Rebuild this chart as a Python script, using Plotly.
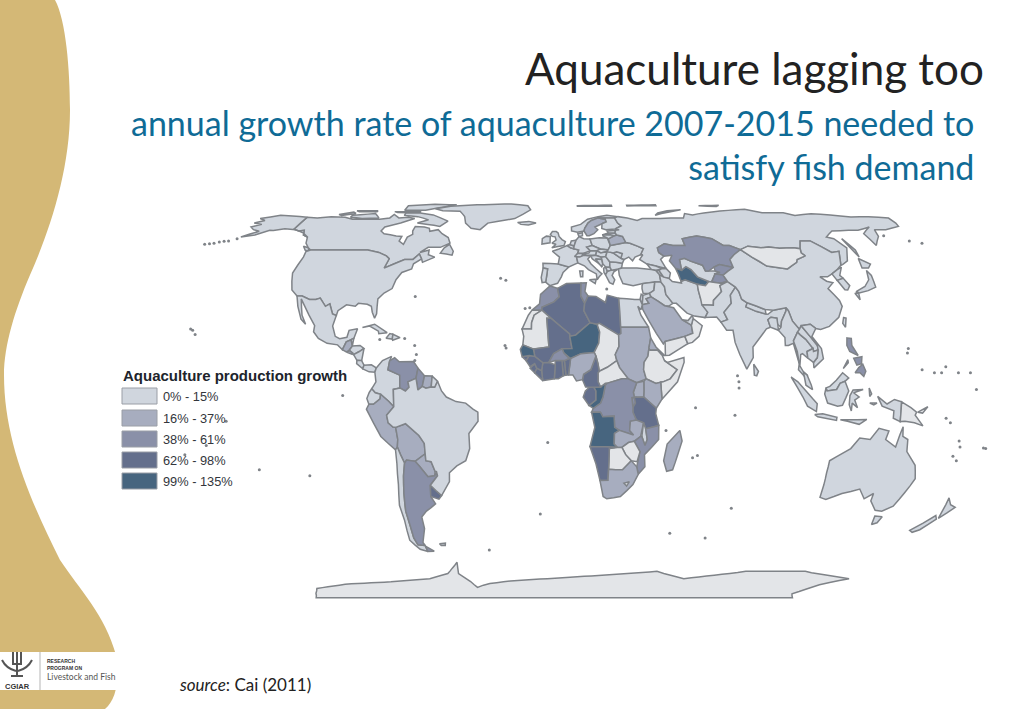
import numpy as np
import plotly.graph_objects as go

# class per country read from the map: 0 = palest (no data), 1..5 = legend classes
CLASS_COLORS = ["#e3e5e8", "#d0d6de", "#a7adbf", "#8a90a8", "#646f8c", "#47657f"]
LEGEND_LABELS = ["0% - 15%", "16% - 37%", "38% - 61%", "62% - 98%", "99% - 135%"]

COUNTRY_CLASS = {
    "CAN": 1, "USA": 1, "GRL": 1, "ISL": 1, "MEX": 1, "GTM": 2, "BLZ": 1, "HND": 1, "SLV": 2, "NIC": 1, "CRI": 1, "PAN": 1,
    "CUB": 1, "HTI": 1, "DOM": 1, "COL": 1, "VEN": 3, "GUY": 3, "SUR": 2, "GUF": 1, "ECU": 1, "PER": 2, "BOL": 2,
    "PRY": 2, "CHL": 1, "ARG": 3, "URY": 4, "BRA": 1, "FLK": 1,
    "GBR": 1, "IRL": 1, "ESP": 1, "PRT": 1, "FRA": 1, "BEL": 1, "NLD": 1, "DEU": 1, "CHE": 1, "AUT": 1, "ITA": 1, "DNK": 1,
    "NOR": 1, "SWE": 2, "FIN": 1, "POL": 1, "CZE": 1, "SVK": 1, "HUN": 1, "HRV": 1, "BIH": 1, "SRB": 1, "ALB": 1, "MKD": 1,
    "GRC": 1, "BGR": 1, "ROU": 1, "MDA": 1, "UKR": 1, "BLR": 2, "LTU": 1, "LVA": 1, "EST": 1, "RUS": 1,
    "SJM": 1, "FJL": 1, "SZM": 1,
    "GEO": 1, "ARM": 1, "AZE": 1, "TUR": 1, "SYR": 1, "ISR": 1, "JOR": 1, "IRQ": 1, "SAU": 2, "YEM": 0, "OMN": 0, "ARE": 1,
    "IRN": 1, "TKM": 5, "UZB": 1, "KAZ": 3, "KGZ": 3, "TJK": 3, "AFG": 0, "PAK": 1, "IND": 1, "NPL": 1, "BGD": 1, "LKA": 1,
    "CHN": 1, "MNG": 0, "PRK": 1, "KOR": 1, "JPN": 1, "TWN": 1, "MMR": 1, "THA": 1, "LAO": 1, "VNM": 1, "KHM": 1, "MYS": 1,
    "IDN": 1, "PNG": 0, "PHL": 3, "AUS": 1, "NZL": 1,
    "MAR": 3, "ESH": 0, "DZA": 4, "MRT": 0, "MLI": 4, "NER": 5, "TUN": 3, "LBY": 4, "EGY": 1, "TCD": 0, "SDN": 2, "ERI": 2,
    "ETH": 0, "SOM": 0, "KEN": 2, "UGA": 2, "RWA": 3, "TZA": 4, "CAF": 0, "COD": 3, "COG": 5, "GAB": 4, "CMR": 4, "NGA": 2,
    "BEN": 4, "TGO": 4, "GHA": 4, "CIV": 4, "BFA": 3, "LBR": 4, "SLE": 4, "GIN": 4, "GNB": 4, "SEN": 5, "AGO": 5, "ZMB": 2,
    "MWI": 1, "MOZ": 3, "ZWE": 0, "BWA": 0, "NAM": 4, "ZAF": 2, "LSO": 0, "MDG": 2, "ATA": 0,
}

# rough country outlines as "lon,lat" rings
OUTLINES = {
    "CAN": ["-141,69.6 -135,69 -128,70 -120,69.5 -115,68 -108,68 -100,68 -95,69 -94,72 -90,69 -85,69.5 -81,68.5 -87,65 -94,62 -94.5,59 -92,57 -85,55.3 -82,55 -82,52.9 -79,51.5 -79,54.7 -77,56.5 -78,59 -78,62.4 -73,62 -70,61 -69,58.8 -65,60 -62,57 -58,54.5 -56,52 -60,50.2 -66,50.2 -69,48 -65,49 -64.5,47 -61,46 -66,44 -67,45.2 -69,47.3 -71,45 -75,45 -79,43.5 -83,42 -82.5,45.3 -84.5,46.5 -89,48 -95,49 -123,49 -125,50 -128,52 -130,54.7 -133,56 -135,59.5 -137.5,59 -141,60.3",
            "-80,73.5 -72,71.5 -67,69 -62,66.5 -65,62.5 -72,64 -78,65 -73,67.5 -80,70 -88,71 -88,73.5",
            "-117,71 -105,73 -101,69 -110,68.5 -117,69.5", "-90,76.5 -78,76.5 -72,79 -62,82.5 -75,83 -90,81.5",
            "-125,72 -118,74.5 -116,73 -123,71", "-95,75 -80,75 -82,73.5 -93,74", "-59,47.7 -53,46.8 -53,48.5 -56,51.5 -58,50",
            "-128,50.7 -125,50 -123.5,48.5 -125.5,48.9", "-117,76 -105,76 -105,74.8 -115,74.8"],
    "USA": ["-123,49 -95,49 -89,48 -84.5,46.5 -82.5,45.3 -83,42 -79,43.5 -75,45 -71,45 -69,47.3 -67,45.2 -70,43.5 -70,41.7 -74,40.5 -75.5,38 -76,35 -79,33.5 -81,31.5 -80,26.5 -80.5,25 -82,27 -83,29 -85,29.7 -89,30 -90,29 -94,29.5 -97,27.5 -97.2,25.9 -99,26.4 -101.4,29.8 -103,29 -106.5,31.8 -108.2,31.3 -111,31.3 -114.8,32.5 -117.1,32.5 -120.5,34.5 -122.5,37.5 -124.3,40.3 -124,46 -124.7,48.4",
            "-141,69.6 -141,60.3 -137.5,59 -135,59.5 -133,56 -130,54.7 -134,57.5 -140,60 -146,60.7 -151,59.3 -153,59.5 -158,56 -164,54.7 -158,58.8 -162,60 -165,62 -161,64 -166,65 -162,67 -166,68.5 -157,71 -150,70.5"],
    "GRL": ["-73,78.2 -65,81 -50,82.5 -30,83.5 -20,81.5 -18,77 -22,72 -26,68.5 -40,65 -43,60 -48,61 -52,65 -54,70 -58,75.5 -68,76"],
    "ISL": ["-24,65.5 -18,66.3 -14,65 -18,63.5 -22,64"],
    "MEX": ["-117.1,32.5 -114.8,32.5 -111,31.3 -108.2,31.3 -106.5,31.8 -103,29 -101.4,29.8 -99,26.4 -97.2,25.9 -97.8,22.4 -96,19 -94,18.2 -91,18.7 -90.5,21 -87,21.5 -88,18.3 -89.1,17.9 -91,17.2 -92.2,14.6 -94.5,16.2 -99,16.7 -103,18.3 -105.5,20.5 -105.5,22.5 -109,26 -112.5,29.5 -114.7,31.5 -112,26 -109.5,23 -112,24.7 -115,29"],
    "GTM": ["-92.2,14.6 -91,17.2 -89.1,17.9 -88.2,15.8 -89.3,14.4 -90.5,13.9"],
    "BLZ": ["-89.1,17.9 -88,18.4 -88.2,16"],
    "HND": ["-89.3,14.4 -88.2,15.8 -85,16 -83.2,15 -85,14 -87.3,13"],
    "SLV": ["-90,13.7 -89.3,14.4 -87.7,13.5 -87.9,13.1"],
    "NIC": ["-87.3,13 -85,14 -83.2,15 -83.7,11 -85.7,11.1"],
    "CRI": ["-85.7,11.1 -83.7,11 -82.6,9.5 -83,8.3 -85.7,10"],
    "PAN": ["-83,8.3 -82.6,9.5 -79.5,9.6 -77.4,8.6 -77.9,7.2 -80.3,7.3"],
    "CUB": ["-85,21.9 -80,23 -74.2,20.2 -77.7,19.9 -78,20.7 -82,22.4"],
    "HTI": ["-74.4,18.4 -73,19.9 -71.7,19.7 -71.7,18.1"],
    "DOM": ["-71.7,19.7 -68.5,18.6 -71.5,17.7 -71.7,18.1"],
    "COL": ["-77.4,8.6 -75,11 -71.3,12.4 -72,10.9 -72.5,8 -67.5,6.2 -67.3,2 -70,1.5 -69.9,-4.2 -72,-2.4 -75.3,-0.1 -77.5,0.4 -79,1.7 -77.3,4 -77.9,7.2"],
    "VEN": ["-72,10.9 -70,12 -68,10.6 -62,10.7 -60,8.5 -60.7,5.2 -64,4 -63.5,2.2 -65,1 -67.3,2 -67.5,6.2 -72.5,8"],
    "GUY": ["-60,8.5 -57.2,6 -58,2.5 -59.8,1.3 -60.7,5.2"],
    "SUR": ["-57.2,6 -54,5.9 -54.3,2.3 -56.5,1.9 -58,2.5"],
    "GUF": ["-54,5.9 -51.7,4.2 -52.8,2.2 -54.3,2.3"],
    "ECU": ["-79,1.7 -77.5,0.4 -75.3,-0.1 -75.5,-1.6 -78.3,-3.4 -80.2,-3.4 -81,-1.5 -80,0.5"],
    "PER": ["-80.2,-3.4 -78.3,-3.4 -75.5,-1.6 -75.3,-0.1 -72,-2.4 -69.9,-4.2 -73,-7 -72.5,-9.5 -70.5,-11 -69.5,-11 -69,-15 -69.5,-17.5 -70.4,-18.4 -76,-14 -81.3,-5"],
    "BOL": ["-69.5,-11 -65.3,-9.8 -60,-13.7 -58,-16.3 -58,-19.7 -62.6,-22.2 -66.2,-21.8 -67.2,-22.8 -68.5,-20 -69.5,-17.5 -69,-15"],
    "PRY": ["-58,-19.7 -62.6,-22.2 -61,-23.8 -58,-27.3 -55,-27 -54.6,-25.5 -55.8,-22.3 -58,-22"],
    "CHL": ["-70.4,-18.4 -69.5,-17.5 -68.5,-20 -67.2,-22.8 -68.5,-27 -70,-33 -71.5,-39 -71.8,-44 -72.5,-49 -72,-52 -68.6,-52.3 -68.6,-55 -72,-54 -75,-50 -73.5,-42 -73.5,-37 -71.5,-30 -70.5,-23"],
    "ARG": ["-66.2,-21.8 -62.6,-22.2 -61,-23.8 -58,-27.3 -55,-27 -54,-25.6 -53.8,-27 -57.6,-30.2 -58.4,-34 -57,-36.5 -62,-39 -65,-41 -65.5,-45 -69,-51 -68.6,-52.3 -72,-52 -72.5,-49 -71.8,-44 -71.5,-39 -70,-33 -68.5,-27 -67.2,-22.8",
            "-68.6,-52.6 -65.3,-54.8 -68.6,-55"],
    "URY": ["-57.6,-30.2 -53.5,-33.7 -55,-34.9 -58.4,-34"],
    "BRA": ["-69.9,-4.2 -70,1.5 -67.3,2 -65,1 -63.5,2.2 -64,4 -60.7,5.2 -59.8,1.3 -58,2.5 -56.5,1.9 -54.3,2.3 -52.8,2.2 -51.7,4.2 -50,1 -48,-1 -44,-2.5 -40,-3 -37,-5 -35,-6 -35,-9 -39,-13 -39,-18 -41,-22 -45,-23.7 -48.5,-26 -49,-29 -53.5,-33.7 -57.6,-30.2 -53.8,-27 -54,-25.6 -54.6,-25.5 -55.8,-22.3 -58,-22 -58,-19.7 -58,-16.3 -60,-13.7 -65.3,-9.8 -69.5,-11 -70.5,-11 -72.5,-9.5 -73,-7"],
    "FLK": ["-61,-51.5 -58,-51.3 -58.5,-52.3 -60.5,-52.3"],
    "GBR": ["-5,58.6 -3,58.6 -2,57.5 -1.5,55 0,53.6 1.7,52.7 1,51 -5,50 -3,51.5 -5,52 -3,53.4 -3.5,54.8 -5,55 -6,56.5"],
    "IRL": ["-10,54 -8,55.2 -6,55 -6,52.2 -10,51.6"],
    "ESP": ["-9,43.7 -1.8,43.4 3.2,42.4 0.5,40.5 -0.3,39 -2,36.8 -5.5,36 -7.4,37.2 -7,39.5 -6.7,41.7 -8.8,42"],
    "PRT": ["-8.8,42 -6.7,41.7 -7,39.5 -7.4,37.2 -9,37 -9.5,38.8"],
    "FRA": ["-1.8,43.4 3.2,42.4 7.5,43.8 7,46 7.6,47.6 8.2,49 5.8,49.6 4.2,50 2.5,51 -1.5,49.5 -4.7,48.5 -1.2,46"],
    "BEL": ["2.5,51 4,51.4 6,50.8 5.8,49.6 4.2,50"],
    "NLD": ["4,51.4 4.7,53 7.1,53.3 6,50.8"],
    "DEU": ["6,50.8 7.1,53.3 8.7,54.9 11,54 14.2,53.9 15,51 12.2,50.3 13.8,48.7 10,47.5 7.6,47.6 8.2,49 5.8,49.6"],
    "CHE": ["6,46.2 7.6,47.6 9.6,47.5 10.4,46.8 8.5,46"],
    "AUT": ["9.6,47.5 13,47.7 13.8,48.7 17,48.7 16.2,46.8 12,46.8"],
    "ITA": ["7,46 7.5,43.8 10.5,42.8 12.3,41.5 15.8,40 16,38 17,39 18.4,40 16,41.7 13.6,43.5 12.3,45.2 13.7,46.5 10.4,46.8 8.5,46",
            "12.5,38 15.6,38.2 15,36.7", "8.2,41 9.7,41 9.5,39 8.5,39"],
    "DNK": ["8.2,57 10.6,57.7 10.5,55.5 8.7,54.9"],
    "NOR": ["5,59 5,62 10,64 14,68 20,70 25,71 31,70 29,69 25,69 20,69 16,67 14,65 12,61 11.5,59 8,58"],
    "SWE": ["11.5,59 12,61 14,65 16,67 20,69 23.7,68 24,66 21.5,64.5 17.5,62 18.8,60 16.5,57 14,55.5 12.8,55.5"],
    "FIN": ["20,69 25,69 29,69 30,65 31.5,62.8 28,60.5 23,60 21,61 21.5,64.5 24,66 23.7,68"],
    "POL": ["14.2,53.9 19,54.4 23,54.3 24,51 22.8,49.2 18.8,49.5 15,51"],
    "CZE": ["12.2,50.3 15,51 18.8,49.5 17,48.7 13.8,48.7"],
    "SVK": ["17,48.7 18.8,49.5 22.5,49 22,48.4 18.8,47.8"],
    "HUN": ["16.2,46.8 17,48.7 18.8,47.8 22,48.4 21,46.2 18.8,45.9"],
    "HRV": ["13.7,46.5 16.2,46.8 18.8,45.9 19,45 16,45.2 19,42.5 14.5,45.2"],
    "BIH": ["16,45.2 19,45 19.2,43.5 18.5,42.5"],
    "SRB": ["18.8,45.9 21,46.2 22.6,44.2 22.4,42.3 20.5,42.3 19.2,43.5 19,45"],
    "ALB": ["19.4,42 20.5,42.3 21,40.8 20,39.7 19.4,40.5"],
    "MKD": ["20.5,42.3 22.4,42.3 23,41.3 21,40.8"],
    "GRC": ["21,40.8 23,41.3 26.3,41.7 24,40.7 23,39.5 24,38 23,36.5 21.5,37 20,39.7"],
    "BGR": ["22.6,44.2 28.5,43.7 27.8,42 26.3,41.7 23,41.3 22.4,42.3"],
    "ROU": ["21,46.2 22,48.4 24.8,47.8 28.2,45.5 29.6,45 28.5,43.7 22.6,44.2"],
    "MDA": ["26.6,48.3 29.2,47.5 28.2,45.5 24.8,47.8"],
    "UKR": ["22,48.4 22.5,49 24,51 32,52.3 34,52 40,49.6 38,47 35,46 33.5,44.5 32,46 29.6,45 28.2,45.5 29.2,47.5 26.6,48.3 24.8,47.8"],
    "BLR": ["24,51 23.5,53.9 26.7,55.5 28.2,56 31,55 32,52.3"],
    "LTU": ["21,55.3 21,56.3 25,56.3 26.7,55.5 23.5,53.9 23,54.3"],
    "LVA": ["21,56.3 24,57.5 27.5,57.5 28.2,56 26.7,55.5 25,56.3"],
    "EST": ["23.5,59 28,59.5 27.5,57.5 24,57.5"],
    "RUS": ["28,59.5 27.5,57.5 28.2,56 31,55 32,52.3 34,52 40,49.6 38,47 39,47 37,45 40,43.4 44,42.7 48.5,41.9 47,45 49,46.4 47,48 47,50 51,51.7 55,51 61,51 61,53.9 69,55.3 76,54 80,51 83,51 87.4,49.2 92,50.7 98,50 102,50.3 107,49.8 114,50 117,49.6 120,53 125,53 131,48 135,48.5 131,43 132,43.2 135.5,44.5 140.3,50 138,54 135,54.7 141,59 150,59.5 155,59.5 163,62 156,57 156,51 162,55 164,60 170,60 179,62.5 180,65 180,68.9 170,70 160,69.7 150,71.5 140,72.7 130,71 125,73.8 113,73.7 105,77.7 90,75.7 80,73.5 73,71.5 69,73 67,69 60,69 54,68.5 44,68.5 41,67 36,69 31,70 29,69 30,65 31.5,62.8 28,60.5 30,60",
            "142,54 143.5,49 142.5,46 142,50", "52,71 56,73 68,77 60,76 54,73.5"],
    "SJM": ["9,81.5 29,82 29,81 9,80.8"],
    "FJL": ["38,82 55,82.5 55,81.5 38,81.3"],
    "SZM": ["80,81.5 92,82 90,80.5"],
    "GEO": ["40,43.4 44,42.7 46.5,41.8 43.5,41.2 41.5,41.5"],
    "ARM": ["43.5,41.2 45,41.2 46.5,38.9 44.8,39.7"],
    "AZE": ["46.5,41.8 48.5,41.9 50,40.3 48.9,38.4 46.5,38.9 45,41.2"],
    "TUR": ["26.3,41.7 28,42 35,42 41.5,41.5 43.5,41.2 44.8,39.7 44.8,37.2 42,37.2 36.5,36.7 32,36 27.5,36.7 26.3,39.5"],
    "SYR": ["36,36 36.5,36.7 42,37.2 41,34.4 38.8,33.4 36,33.3 35.8,35"],
    "ISR": ["34.3,31.3 35.1,33.1 35.8,32.7 35,29.5"],
    "JOR": ["35.8,32.7 38.8,33.4 39.3,32.2 37,31.5 38,30 35,29.5"],
    "IRQ": ["38.8,33.4 41,34.4 42,37.2 44.8,37.2 46,35.7 46,33 48.5,30 46.5,29.1 44.7,29.2 39.3,32.2"],
    "SAU": ["35,29.5 38,30 37,31.5 39.3,32.2 44.7,29.2 48.5,28.5 50,26.5 51.5,24.5 55.2,22.7 55.5,20 52,19 49,18.4 43.5,17.3 42.7,16.5 40,20 37,24.5 35,28"],
    "YEM": ["43.5,17.3 49,18.4 52,19 53,16.6 45,12.8 43.3,12.7"],
    "OMN": ["52,19 55.5,20 55.2,22.7 56.3,24.9 59.8,22.5 58,19 55,17 53,16.6"],
    "ARE": ["51.5,24.5 55.2,22.7 56.3,24.9 56.2,26 54,24.2"],
    "IRN": ["44.8,39.7 46.5,38.9 48.9,38.4 50,37.4 54,36.9 54,37.5 56,38 61,36.5 60.8,34.3 61,31.5 63,27 61.5,25.2 57,25.7 54,26.7 50,30 48.5,30 46,33 46,35.7 44.8,37.2"],
    "TKM": ["52.9,42 55.5,41.3 58,42.5 60,41.5 62,39 66.5,37.4 64.5,36 61,36.5 56,38 54,37.5 53.5,40"],
    "UZB": ["56,45 58.5,45.5 61,44.4 66,43 66.5,41 68,41 71,41 73,40.5 70.5,40 67.7,37.2 66.5,37.4 62,39 60,41.5 58,42.5 55.5,41.3"],
    "KAZ": ["49,46.4 47,48 47,50 51,51.7 55,51 61,51 61,53.9 69,55.3 76,54 80,51 83,51 87.4,49.2 83,47 80,45 80,42.2 74,43.2 71,42.3 68,41 66.5,41 66,43 61,44.4 58.5,45.5 56,45 55.5,41.3 52.9,42 51,44.5 53,46.8"],
    "KGZ": ["71,42.3 74,43.2 80,42.2 74,39.6 70,40 73,40.5 71,41"],
    "TJK": ["67.7,37.2 70.5,40 74,39.6 75,37.4 71.5,36.8"],
    "AFG": ["61,31.5 60.8,34.3 61,36.5 64.5,36 66.5,37.4 67.7,37.2 71.5,36.8 75,37.4 71,36 71,34 69.5,33 66.5,31 66,29.4 61,29.5"],
    "PAK": ["61,29.5 66,29.4 66.5,31 69.5,33 71,34 71,36 75,37.4 77.8,35.5 74.5,32.8 74,30 70,27 71,24.5 68,23.7 66.5,25.4 61.5,25.2 63,27"],
    "IND": ["77.8,35.5 74.5,32.8 74,30 70,27 71,24.5 68,23.7 70,21 72.7,21 73,17 74.5,13 77,8.2 80,12 80.3,15.5 85,19.7 87,21.5 88.8,22 88.3,24.5 89.8,25.3 92.3,25 92,23 93.3,22 94,24 97,27.5 97.3,28.5 91.5,27.7 88.8,26.3 88,26.4 84,27.3 80,28.8 81,30.2 79,31.4 78.7,34"],
    "NPL": ["80,28.8 81,30.2 88.1,27.9 88,26.4 84,27.3"],
    "BGD": ["88.8,22 92,21 92.3,25 89.8,25.3 88.3,24.5"],
    "LKA": ["80,9.8 81.8,7.5 81,6 80,6.2"],
    "CHN": ["75,37.4 74,39.6 80,42.2 80,45 83,47 87.4,49.2 91,46 96,42.7 105,41.7 111,44 112,45 117,46.5 116,47.8 117,49.6 120,53 125,53 131,48 135,48.5 131,43 128,41.5 124.3,40 121.5,39 118,39 120,37.5 122.5,37 119,35 121.8,31 122,29 119,25.3 114,22.3 110,21.3 108,21.6 106,23 102,22.5 101,21.3 98.7,24 98,27.5 97.3,28.5 91.5,27.7 88.1,27.9 81,30.2 79,31.4 78.7,34 77.8,35.5"],
    "MNG": ["87.4,49.2 92,50.7 98,50 102,50.3 107,49.8 114,50 117,49.6 116,47.8 117,46.5 112,45 111,44 105,41.7 96,42.7 91,46"],
    "PRK": ["124.3,40 128,41.5 130.6,42.3 127.5,39.5 128.3,38.5 125,37.8"],
    "KOR": ["125,37.8 128.3,38.5 129.4,36 127.5,34.5 126.3,34.6"],
    "JPN": ["130.9,34 136,35.7 139.5,38 141.3,41.2 142,39.5 140.7,35.5 136.5,34.3 132,33.5", "140,42 141.5,45.4 145.3,43.4 143,42", "130,33.4 131.7,33.5 131,31.2"],
    "TWN": ["121,25.2 122,25 120.8,22 120,23.3"],
    "MMR": ["92,21 93.3,22 94,24 97,27.5 97.3,28.5 98,27.5 98.7,24 101,21.3 100,20.4 97.7,17.5 98.7,14 99,10 98.5,12 97.5,16.7 95.3,16 94,16 94.3,18.6"],
    "THA": ["97.7,17.5 100,20.4 101,19.5 103,18 105.5,15 102.8,14 102.8,11.8 100.8,13.3 100,13 99.2,9.3 100.5,7.3 102,6.2 101,5.7 98.5,8 99,10 98.7,14"],
    "LAO": ["100,20.4 101,21.3 102,22.5 105,19 107.5,16 107.5,14.5 105.5,14 105.5,15 103,18 101,19.5"],
    "VNM": ["102,22.5 106,23 108,21.6 105.8,19 109,15 109.3,11.6 105,8.6 105,10.4 106.8,12 107.5,14.5 107.5,16 105,19"],
    "KHM": ["102.8,14 105.5,15 105.5,14 107.5,14.5 106.8,12 105,10.4 102.8,11.8"],
    "MYS": ["100.5,7.3 102,6.2 103.5,3 104,1.4 101.3,2.9", "109.6,2 111.2,2.5 114,4.5 116.8,7 119.2,5.3 117.6,4.2 115.5,3.5 114,1.5 110,1"],
    "IDN": ["109.6,2 110,1 114,1.5 115.5,3.5 117.6,4.2 119,1 116.5,-3.7 114.5,-4 110.3,-3 109,0",
            "95.3,5.6 98,4 104,-1.5 106,-3.2 105.8,-5.8 102,-4 100,-1", "105.2,-6.8 108.5,-6.5 114.5,-7.7 114.4,-8.7 106.5,-7.5",
            "119.5,-0.5 120.8,1.3 125,1.5 121,0.4 123.3,-1 121.5,-2 122.8,-4.5 120.5,-3 120.3,-5.6 119.3,-3.5",
            "116,-8.5 123,-8.5 127,-8.4 124,-10 119,-9", "131,-0.8 135,-3.3 138,-1.8 141,-2.6 141,-9.1 138,-8 138,-5.5 133,-4",
            "127.5,2 128.5,0 127.7,-0.8", "127.8,-3 130.8,-3 129.5,-3.6"],
    "PNG": ["141,-2.6 145,-4.5 147.5,-6 147,-7 150.7,-10.5 147,-9.5 143,-9 141,-9.1", "148,-6 152,-4.2 150,-6.3"],
    "PHL": ["120.5,18.5 122.3,18.3 122,16 124,12.7 120.7,14 119.9,16", "122,7 123.7,8.7 125.5,9.8 126.5,7.5 125.5,5.8 124,7",
            "122,11.8 125.5,12.3 125,10 123,9.5", "117.2,8.4 119.5,11.3 119.5,10.3"],
    "AUS": ["114,-22 114,-26 115,-34.3 118,-35 124,-33 131,-31.5 135,-34.8 138,-33 138.5,-35.5 143,-38.7 146.3,-39 150,-37.3 153.2,-28 151,-23.5 146,-19 145.3,-15 143,-14 142.5,-10.8 141.6,-13.5 140.8,-17.5 136,-15 136.8,-12.2 132.5,-11.3 129.5,-15 125,-14.5 122,-18 116.5,-20.7",
            "144.7,-40.7 148.3,-40.9 148,-43 146,-43.6"],
    "NZL": ["172.7,-34.5 175.5,-36.8 178.5,-37.7 175,-41.5 174,-39", "172.7,-40.5 174.3,-41.7 171,-45.5 168.5,-46.6 166.5,-45.8"],
    "MAR": ["-13,27.7 -8.7,27.7 -8.7,28.7 -3.5,30.5 -1.2,32.2 -2,35.1 -5.4,35.9 -9.5,33 -9.8,29.8"],
    "ESH": ["-17,21.4 -13,21.4 -13,23.5 -12,26 -8.7,27.7 -13,27.7 -14.5,26"],
    "DZA": ["-8.7,27.7 -8.7,28.7 -3.5,30.5 -1.2,32.2 -2,35.1 2,36.7 8.6,36.9 8.3,32.5 9.9,30 9.5,27.5 12,23.5 5.8,19.4 3.3,19 3.2,19.8 -4.8,25"],
    "MRT": ["-17,21.4 -13,21.4 -13,23.5 -12,26 -8.7,27.7 -4.8,25 -6.5,25 -5.5,15.5 -12,14.8 -16.5,16.2 -16.2,19"],
    "MLI": ["-4.8,25 3.2,19.8 3.3,19 4.2,15 0,14.9 -3.5,13.3 -5.5,10.4 -8,10.3 -11.4,12.4 -12,14.8 -5.5,15.5 -6.5,25"],
    "NER": ["3.3,19 5.8,19.4 12,23.5 15,23 16,20.4 15.5,16.8 13.5,13.7 8,13.3 3.6,11.7 0.8,13.5 0,14.9 4.2,15"],
    "TUN": ["8.6,36.9 11,37 10.2,34 11.5,32.5 10,30 8.3,32.5"],
    "LBY": ["9.9,30 11.5,32.5 15,32.3 19,30.3 20,32.8 25,31.7 25,20 24,19.5 16,23.3 15,23 12,23.5 9.5,27.5"],
    "EGY": ["25,31.7 32,31.3 34.3,31.3 35,29.5 34.2,27.8 33,29 34,26 36.9,22 25,22"],
    "TCD": ["15,23 16,23.3 24,19.5 24,15.7 22.3,13 22.9,11 18.9,8.8 15.5,7.5 15,10 14.2,12.5 13.5,13.7 15.5,16.8 16,20.4"],
    "SDN": ["25,22 36.9,22 37.5,18.5 36.5,15 36,12.5 34.3,10.5 34,8 35,5 31,3.7 27.5,5 24,8.7 22.9,11 22.3,13 24,15.7 24,19.5 25,20"],
    "ERI": ["36.5,15 37.5,18.5 39.5,15.5 43,12.7 42,12.7 40,14.5 37,14.4"],
    "ETH": ["36,12.5 36.5,15 37,14.4 40,14.5 42,12.7 42.8,11 48,8 45,5 42,4 39,3.5 35.8,4.7 35,5 34,8 34.3,10.5"],
    "SOM": ["42.8,11 44,10.4 51,12 51,10.5 48,4 41.5,-1.7 41,3.9 42,4 45,5 48,8"],
    "KEN": ["34,4.2 35,5 35.8,4.7 39,3.5 41,3.9 41.5,-1.7 39.2,-4.7 33.9,-1 34,1"],
    "UGA": ["31,3.7 34,4.2 34,1 33.9,-1 30,-1.1 29.6,0.6"],
    "RWA": ["29,-1.2 30.7,-1.1 30.5,-3 29.5,-4.4"],
    "TZA": ["30,-1.1 33.9,-1 39.2,-4.7 39,-6.5 40.4,-10.4 35,-11.5 34,-9.5 31,-8.6 29.5,-6 29.5,-4.4 30.5,-3"],
    "CAF": ["15,7 15.5,7.5 18.9,8.8 22.9,11 24,8.7 27.5,5 25,5 18.6,3.5 16,2.3 15,4"],
    "COD": ["18.6,3.5 25,5 27.5,5 31,3.7 29.6,0.6 30,-1.1 29,-1.2 29.5,-4.4 29.5,-6 31,-8.6 28.5,-9 28.3,-12 30,-13.5 24,-12 22,-11 21.7,-7.3 17,-7.5 16,-6 12.3,-6 13,-4.7 16,-3 17,-1 18,3"],
    "COG": ["18,3.5 18.6,3.5 18,3 17,-1 16,-3 13,-4.7 11.2,-3.8 14,-2 14,1 13.2,2.2 16,2.3"],
    "GAB": ["9.7,1 11.3,2.2 13.2,2.2 14,1 14,-2 11.2,-3.8 8.8,-1"],
    "CMR": ["8.5,4.7 9,6.5 12,8 14.2,12.5 15,10 15.5,7.5 15,7 15,4 16,2.3 13.2,2.2 9.8,2.3"],
    "NGA": ["2.7,6.3 3.6,11.7 8,13.3 13.5,13.7 14.2,12.5 12,8 9,6.5 8.5,4.7 6,4.3 4.5,6.3"],
    "BEN": ["1.6,6.2 1,11 3,11.7 3.6,11.7 2.7,6.3"],
    "TGO": ["0.5,6 0,11 1,11 1.6,6.2"],
    "GHA": ["-3.2,5 -2.8,11 0,11 0.5,6 -1.5,5"],
    "CIV": ["-8,4.4 -8.5,7.7 -8,10.3 -5.5,10.4 -2.8,9.6 -3.2,5"],
    "BFA": ["-5.5,10.4 -3.5,13.3 0,14.9 0.8,13.5 3,11.7 1,11 0,11 -2.8,11"],
    "LBR": ["-11.4,7 -10.5,8.5 -8.5,7.7 -8,4.4"],
    "SLE": ["-13.3,8.5 -11.4,10 -10.5,8.5 -11.4,7"],
    "GIN": ["-15,11 -13.7,12.7 -11.4,12.4 -8,10.3 -8.5,7.7 -10.5,8.5 -11.4,10 -13.3,9"],
    "GNB": ["-16.7,12.3 -13.7,12.7 -15,11"],
    "SEN": ["-17.5,14.7 -16.5,16.2 -12,14.8 -11.4,12.4 -13.7,12.7 -16.7,12.3"],
    "AGO": ["12.3,-6 16,-6 17,-7.5 21.7,-7.3 22,-11 24,-12 22,-13 22,-16.5 23.4,-17.6 18.5,-17.4 14,-17.4 11.8,-17.3 13.7,-11 13,-8.5"],
    "ZMB": ["22,-13 24,-12 30,-13.5 28.3,-12 28.5,-9 31,-8.6 34,-9.5 33,-14 30.4,-15.6 28,-16 25.3,-17.6 23.4,-17.6 22,-16.5"],
    "MWI": ["34,-9.5 35,-11.5 35.8,-15 35,-17 33.5,-14"],
    "MOZ": ["40.4,-10.4 40.6,-15 35,-20 35.5,-24 32.9,-26.5 32,-24 33,-19 30.4,-15.6 33,-14 33.5,-14 35,-17 35.8,-15 35,-11.5"],
    "ZWE": ["25.3,-17.6 28,-16 30.4,-15.6 33,-19 32,-22.3 29.5,-22 27,-20"],
    "BWA": ["20,-18 23.4,-17.6 25.3,-17.6 27,-20 29.5,-22 26,-25 23,-25 20,-24.8 20,-22"],
    "NAM": ["11.8,-17.3 14,-17.4 18.5,-17.4 23.4,-17.6 20,-18 20,-22 20,-28.5 16.5,-28.6 14.5,-23"],
    "ZAF": ["16.5,-28.6 20,-28.5 20,-24.8 23,-25 26,-25 29.5,-22 32,-24 32.9,-26.5 31,-30 26,-34 20,-34.8 18.3,-34"],
    "LSO": ["27,-29.5 29.3,-29 28.3,-30.5"],
    "MDG": ["49.3,-12 50.5,-15.5 47.5,-25 45,-25.5 43.3,-22 44.3,-16.5"],
    "ATA": ["-160,-90 -149,-85.5 -100,-81 -76,-77.5 -64,-72 -56,-63 -58,-72 -51,-85 -30,-80 4.6,-76 52.7,-70 70,-77.5 102,-70 135,-70 165,-77.5 145,-88 150,-90"],
}

# specks too small to outline
ISLAND_LON = [-178, -176, -174, -172, -170, -168, -165, -155.5, -157, -158, -91, -28, -25.5, -16, -14, -24, -23.5, -64.8,
              178, -175, -172, 160, 162, 167, 168, 73.5, 73.5, 73, 57.5, 55.5, 55.5, 43.5, 72, 165, 170, 144.8, 145.5,
              150, 155, 158, 160, -150, -160, -140, -130, -109, -62, -61, -61.5, -77, -66.5, -37, -10, -6, 20, 70, 77,
              52, 166, 168, 172, 179, 165, 175, 180]
ISLAND_LAT = [51.5, 51.8, 52, 52.5, 52.8, 53, 54, 19.6, 21, 21.4, -0.5, 38.5, 37.8, 28.3, 28.5, 16, 15.2, 32.3,
              -17.8, -21, -13.7, -8, -9.5, -15.5, -17.5, 4, 2, 6, -20.3, -21, -4.5, -12, -7, 7, 7, 13.5, 15,
              8, 7, 7, 9, -17, -20, -9, -25, -27, 16, 13, 11, 18, 18.3, -54.3, -40, -16, 34.9, -49, -38,
              -47, -20.5, -22, 1.5, -18, 55.4, 53, 52]

LEGEND_TITLE = "Aquaculture production growth"
TITLE = "Aquaculture lagging too"
SUBTITLE = "annual growth rate of aquaculture 2007-2015 needed to<br>satisfy fish demand"

# the source projection is flatter towards the poles than Robinson
TRUE_LAT = [0, 25, 45, 55, 71, 83.5, 90]
MAP_LAT = [0, 27.8, 49.5, 58.4, 67, 72, 78.5]

W, H = 1024, 709
LINE = "#7f8388"


def warp(lat):
    return float(np.sign(lat) * np.interp(abs(lat), TRUE_LAT, MAP_LAT))


def ring(text):
    pts = [tuple(float(v) for v in p.split(",")) for p in text.split()]
    pts.append(pts[0])
    out = []
    for (a, b), (c, d) in zip(pts[:-1], pts[1:]):
        n = max(1, int(max(abs(c - a), abs(d - b)) // 4))
        for i in range(n):
            out.append([a + (c - a) * i / n, warp(b + (d - b) * i / n)])
    out.append(out[0])
    # d3 wants outer rings clockwise
    area = sum(p[0] * q[1] - q[0] * p[1] for p, q in zip(out[:-1], out[1:]))
    return out[::-1] if area > 0 else out


fig = go.Figure()

# no locations on these traces, a locationmode would make plotly fetch its topojson
for code, rings in OUTLINES.items():
    lon, lat = [], []
    for r in rings:
        pts = ring(r)
        lon += [p[0] for p in pts] + [None]
        lat += [p[1] for p in pts] + [None]
    fig.add_trace(go.Scattergeo(lon=lon[:-1], lat=lat[:-1], mode="lines", fill="toself", name=code,
                                fillcolor=CLASS_COLORS[COUNTRY_CLASS[code]], line=dict(color=LINE, width=1.5),
                                showlegend=False))
fig.add_trace(go.Scattergeo(lon=ISLAND_LON, lat=[warp(v) for v in ISLAND_LAT], mode="markers",
                            marker=dict(size=3, color=LINE), showlegend=False))


def label(text, x, y, anchor, family, size, color, align="left"):
    return dict(text=text, x=x, y=y, xref="x", yref="y", xanchor=anchor, yanchor="middle", align=align,
                showarrow=False, font=dict(family=family, size=size, color=color))


annotations = [
    label(TITLE, 986, 68, "right", "Lato", 44, "#222222"),
    label(SUBTITLE, 976, 144, "right", "Lato", 34, "#0f6b96", align="right"),
    label("<i>source</i>: Cai (2011)", 177, 684, "left", "Lato", 17, "#222222"),
    label("<b>" + LEGEND_TITLE + "</b>", 121, 375, "left", "Liberation Sans", 15, "#20242c"),
    label("<b>CGIAR</b>", 3, 686, "left", "Liberation Sans", 7.5, "#333333"),
    label("<b>RESEARCH<br>PROGRAM ON</b>", 45, 664, "left", "Liberation Sans", 5, "#333333"),
    label("Livestock and Fish", 45, 677, "left", "Lato", 8.5, "#555555"),
]

# tan swoosh down the left edge, written in page pixels on the hidden axes
swoosh = ("M 0 0 L 55 0 C 66 20 70 70 70 110 C 70 170 50 230 30 275 C 15 310 4 345 4 375 "
          "C 4 440 30 500 60 560 C 80 590 105 615 116 655 C 120 680 116 700 105 709 L 0 709 Z")
emblem = ("M 17 652 L 17 676 M 11 676 L 23 676 M 2 660 C 6 668 12 670 16 671 M 32 660 C 28 668 22 670 18 671 "
          "M 13 652 L 13 664 L 21 664 L 21 652")
shapes = [
    dict(type="path", xref="x", yref="y", path=swoosh, fillcolor="#d4b876", line_width=0, layer="below"),
    dict(type="rect", xref="x", yref="y", x0=0, x1=120, y0=652, y1=690, fillcolor="white", line_width=0, layer="below"),
    dict(type="line", xref="x", yref="y", x0=40, x1=40, y0=652, y1=690, line=dict(color="#b5b5b5", width=1)),
    dict(type="path", xref="x", yref="y", path=emblem, line=dict(color="#555555", width=2)),
]

box_tops = [388, 410, 431, 452, 473]
for top, text, colour in zip(box_tops, LEGEND_LABELS, CLASS_COLORS[1:]):
    shapes.append(dict(type="rect", xref="x", yref="y", x0=122, x1=157, y0=top, y1=top + 16,
                       fillcolor=colour, line=dict(color="#9a9ea6", width=1)))
    annotations.append(label(text, 161, top + 8, "left", "Liberation Sans", 12.8, "#33363c"))

fig.add_trace(go.Scatter(x=[None], y=[None], showlegend=False))

fig.update_layout(
    width=W, height=H, margin=dict(l=0, r=0, t=0, b=0), paper_bgcolor="white", plot_bgcolor="rgba(0,0,0,0)",
    showlegend=False, shapes=shapes, annotations=annotations,
    xaxis=dict(range=[0, W], visible=False, domain=[0, 1], fixedrange=True),
    yaxis=dict(range=[H, 0], visible=False, domain=[0, 1], fixedrange=True),
    geo=dict(domain=dict(x=[127.5 / W, 996.5 / W], y=[0.134, 0.7546]), projection_type="robinson", visible=False,
             showland=False, showocean=False, showlakes=False, showcountries=False, showcoastlines=False,
             showrivers=False, showframe=False, bgcolor="rgba(0,0,0,0)"),
)

fig.write_html("out.html", config={"displayModeBar": False}, post_script="document.body.style.margin='0';")
